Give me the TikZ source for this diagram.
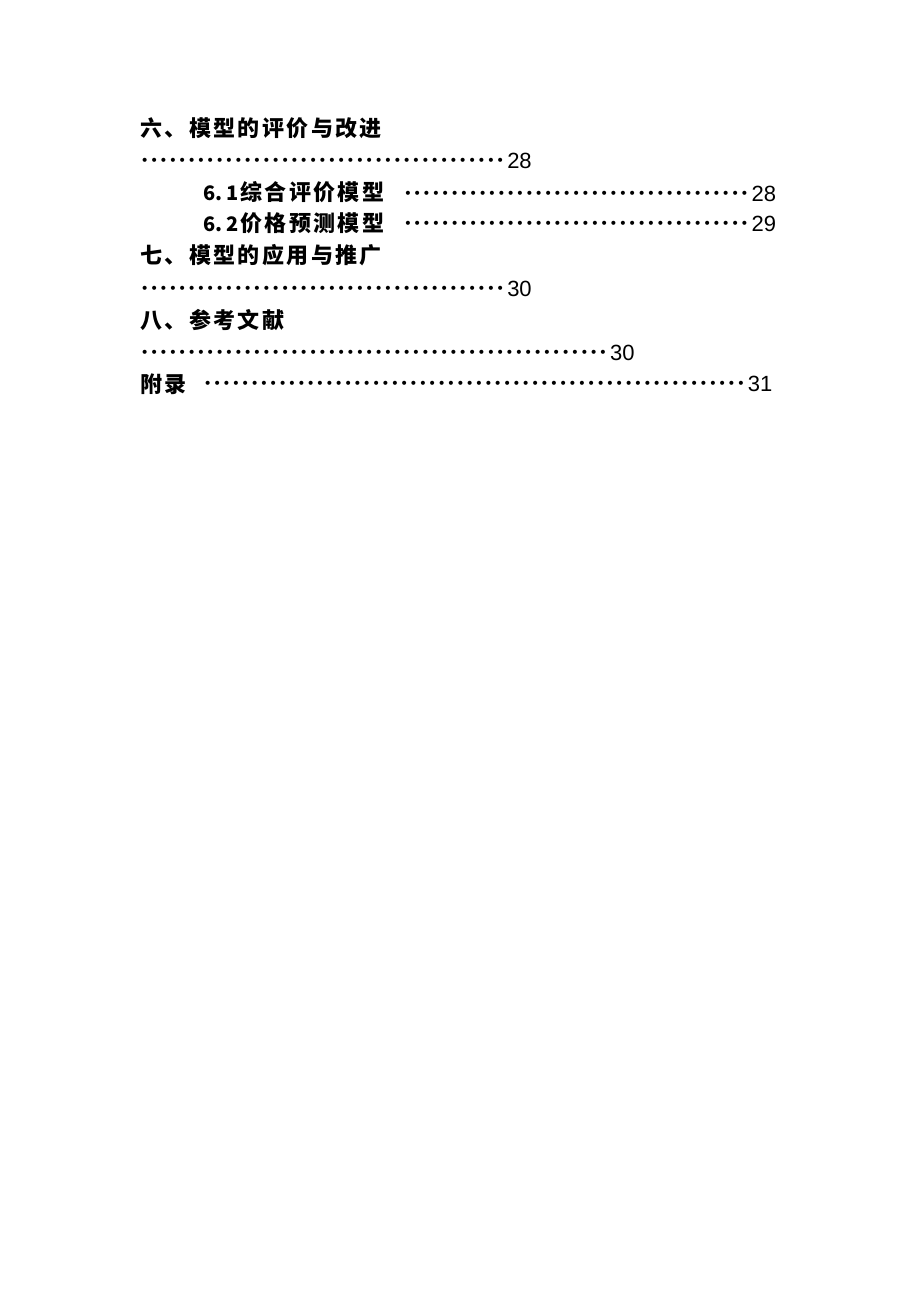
\documentclass[tikz,border=0pt]{standalone}
\usepackage{fontspec}
\newfontfamily\cjk[LetterSpace=11]{Noto Sans CJK SC}
\newfontfamily\cjknum{Noto Sans CJK SC}
\newfontfamily\numfont{Liberation Sans}
\newfontfamily\dotfont{DejaVu Sans}
\newcommand\tocdots[1]{\hbox to \dimexpr 9.35pt*#1\relax{\xleaders\hbox to 9.35pt{\hss{\fontsize{14pt}{14pt}\selectfont\dotfont\raisebox{2.7pt}{•}}\hss}\hfill}}
\tikzset{
  entry/.style={inner sep=0pt, anchor=base west, font=\fontsize{22pt}{22pt}\selectfont\cjk\bfseries},
  subnum/.style={inner sep=0pt, anchor=base west, font=\fontsize{20pt}{20pt}\selectfont\cjknum\bfseries},
  leader/.style={inner sep=0pt, anchor=base west, font=\dotfont},
  pagenum/.style={inner sep=0pt, anchor=base west, xshift=2pt, font=\fontsize{22pt}{22pt}\selectfont\numfont}
}
\begin{document}
\begin{tikzpicture}[x=1pt,y=1pt]
\useasboundingbox (0,0) rectangle (920,-1302);
\fill[white] (0,0) rectangle (920,-1302);
% 六
\node[entry] (e6) at (140,-136) {六、模型的评价与改进};
\node[leader] (d6) at (140,-168) {\tocdots{39}};
\node[pagenum] (p6) at (d6.base east) {28};
% 6.1
\node[subnum] (n61) at (203,-200) {6.\hspace{4pt}1};
\node[entry] (e61) at (240,-200) {综合评价模型};
\node[leader] (d61) at (403,-201) {\tocdots{37}};
\node[pagenum] (p61) at (d61.base east) {28};
% 6.2
\node[subnum] (n62) at (203,-231) {6.\hspace{4pt}2};
\node[entry] (e62) at (240,-231) {价格预测模型};
\node[leader] (d62) at (403,-231) {\tocdots{37}};
\node[pagenum] (p62) at (d62.base east) {29};
% 七
\node[entry] (e7) at (140,-263) {七、模型的应用与推广};
\node[leader] (d7) at (140,-296) {\tocdots{39}};
\node[pagenum] (p7) at (d7.base east) {30};
% 八
\node[entry] (e8) at (140,-328) {八、参考文献};
\node[leader] (d8) at (140,-360) {\tocdots{50}};
\node[pagenum] (p8) at (d8.base east) {30};
% 附录
\node[entry] (ea) at (140,-392) {附录};
\node[leader] (da) at (203,-391) {\tocdots{58}};
\node[pagenum] (pa) at (da.base east) {31};
\end{tikzpicture}
\end{document}
